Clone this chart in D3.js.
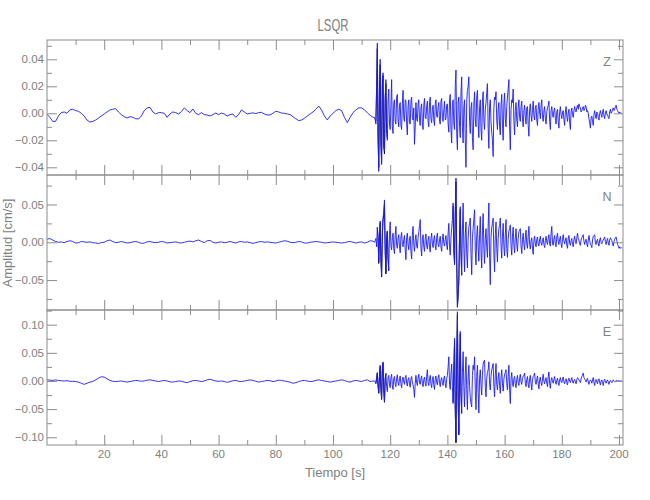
<!DOCTYPE html>
<html>
<head>
<meta charset="utf-8">
<script src="https://cdn.jsdelivr.net/npm/d3@7"></script>
<style>
  html, body { margin: 0; padding: 0; background: #fff; }
  svg { display: block; }
  text { font-family: "Liberation Sans Narrow", "Liberation Sans", "DejaVu Sans Condensed", sans-serif; fill: #808080; }
</style>
</head>
<body>
<svg id="chart" width="650" height="500"></svg>
<script>
// ---------------- DATA (amplitudes in units of 0.001 cm/s) ----------------
const title = "LSQR";
const xLabel = "Tiempo [s]";
const yLabel = "Amplitud [cm/s]";
const components = ["Z", "N", "E"];

// quiet part: one sample per second from t = 0 s to t = 114 s
const quietStart = 0, quietStep = 1;
// active part: one sample per quarter second from t = 114.5 s to t = 201 s
const activeStart = 114.5, activeStep = 0.25;

const zQuiet = [-0.7,-3,-6,-6,-2,0.5,1,0,2.5,3,2,1.5,0,-2,-5,-6.5,-6,-5,-3.5,-2,-0.5,1,2.5,3,3.5,1,-1,-2.5,-3.5,-2.5,
  -3,-4,-4.2,-2,2,4,4.4,1,-0.5,0.5,0.5,0,-3,-0.5,1,0.5,-0.5,1.2,4,2,0.5,3.2,0,-1,0.5,-1,-1.2,-2,-1,0.2,
  -1,0.2,-0.5,-2,-1,-0.5,-3,-1,2.5,1,-0.5,0,0.3,-0.2,0.5,0.7,-0.5,-1.2,-1.2,0,1.5,1,0.2,0,-0.5,-1,-2.5,-4,-5.4,-5,
  -3.7,-2,-0.5,1,3,5.4,2.5,-2,-4.9,-2,0,2,3,2,-3,-6.9,-3,0.5,2.5,4,4,2.5,0.5,-1.5,-3];
const zActive = [
  -3,-5,-8,20,52,-15,-43,18,40,-20,-38,24,30,-25,-28,12,25,-14,-20,10,
  18,-8,-12,6,25,-10,-15,8,10,-6,-8,12,14,-5,-10,6,8,-9,-12,7,
  17,-4,-6,10,9,-8,-16,5,10,-7,-8,9,12,-3,-5,4,-23,-10,8,-4,
  -6,7,10,-5,-9,4,7,-8,-12,6,11,-3,-4,5,9,-6,-10,8,12,-4,
  -7,3,6,-5,-9,7,10,-2,-3,5,8,-6,-8,9,11,-4,-6,3,9,-5,
  -4,6,7,-8,-14,10,14,-12,-22,6,10,-8,-12,20,32,-15,-27,8,12,-10,
  -18,15,27,-10,-22,5,10,-20,-40,8,17,20,27,-6,-15,4,8,-18,-27,6,
  16,-5,-10,12,17,-8,-18,4,10,-12,-20,9,16,-6,-12,3,8,15,22,-10,
  -26,5,10,-6,-14,-20,-32,4,12,10,16,-5,-12,3,8,-10,-16,6,14,-8,
  -20,7,15,-4,-10,5,12,18,25,-10,-27,3,10,8,18,-6,-16,2,8,-5,
  -10,4,10,-3,-6,5,9,-4,-10,2,6,-3,-8,4,5,-9,-17,3,7,-2,
  -6,3,9,-2,-5,4,6,-5,-9,3,8,1,-4,6,10,-3,-6,2,5,-4,
  -8,1,4,6,9,-6,-12,2,5,-1,-3,2,4,-4,-8,1,3,-6,-11,1,
  5,-1,-4,1,2,-5,-9,1,5,-2,-6,0,3,-7,-12,1,4,-1,-3,2,
  5,2,1,4,6,3,7,5,4,1,2,4,5,2,3,6,5,1,2,0,
  -4,-7,-11,-3,-2,-6,-9,-1,2,-2,-4,1,0,-3,-5,0,2,-1,-3,1,
  3,-2,-4,0,2,-1,-1,-3,-4,1,3,0,1,3,4,2,3,5,6,3,
  2,1,0,1,0,0,0];

const nQuiet = [4,5,3,1,0,0.5,-0.5,1,2,1,-1,-0.5,1,0.5,0,0.5,-0.5,-1,-1.5,-0.5,0,2,3,1,-0.5,0,1,0,-1,-0.5,
  0.5,1,0,-1.5,-1,0.5,1,0,-0.5,0,1,0.5,-1,-0.5,0,0.5,-0.5,-1,0,1,1.5,0.5,2,3,1,-0.5,2,2.5,0,-1,
  0,0.5,-0.5,0,1,0,-1,0.5,1,0,0.5,-0.5,-1.5,-0.5,0.5,1,0,0.5,0,-0.5,-1,0,1,2,1.5,0,-0.5,0,1,0.5,
  -1,-1,0,0.5,1,0.5,0,-1,-0.5,0,0.5,0,-0.5,-1,-0.5,0.5,1,0,-1,0,0.5,-1,0,2,1.5];
const nActive = [
  0,2,5,-6,20,8,-25,10,28,-20,-45,12,32,40,56,-10,-40,6,15,-20,
  -37,10,27,-5,-10,6,12,-8,-15,10,21,-4,-8,5,10,-6,-14,7,13,-3,
  -6,4,9,-10,-23,6,12,-3,-10,5,8,-12,-22,10,21,-4,-12,3,10,-5,
  -8,6,14,22,30,-8,-18,4,10,-6,-12,5,11,-4,-9,3,8,-7,-13,5,
  12,-2,-7,4,9,-5,-10,6,12,-3,-6,3,8,-6,-12,4,11,-2,-5,4,
  9,-4,-10,12,25,-6,-17,6,18,30,52,-10,-30,40,85,-20,-85,-70,-52,10,
  47,-10,-43,15,52,-8,-39,10,27,-15,-34,5,20,25,32,-15,-43,6,18,30,
  43,-10,-30,8,22,-6,-25,10,34,-12,-34,15,38,-8,-28,5,18,-6,-20,20,
  52,-20,-56,6,20,25,32,-15,-39,10,27,-8,-26,5,18,22,32,-5,-21,8,
  25,-6,-18,10,30,-8,-20,4,15,18,23,-5,-17,8,20,-4,-14,6,18,-3,
  -12,5,14,16,18,-5,-15,4,12,-3,-10,6,16,-2,-8,8,21,-3,-9,2,
  6,-8,-16,3,8,-2,-6,4,7,-2,-5,3,8,-1,-4,2,6,-3,-7,2,
  8,0,-3,5,10,-2,-5,12,21,-2,-4,5,9,-3,-6,7,12,1,-3,4,
  8,-2,-7,4,10,2,-2,3,6,-4,-8,5,9,-1,-4,2,5,-3,-6,4,
  8,1,-2,6,12,5,3,-2,-4,3,6,8,10,1,-3,2,4,-2,-6,3,
  9,2,-2,-4,-7,3,8,9,10,-1,-3,2,4,-2,-5,3,6,0,-2,1,
  3,5,7,1,-3,2,5,-1,-4,3,6,4,2,-2,-5,1,4,6,7,2,
  -3,-5,-8,-6,-8,-7,-8];

const eQuiet = [2,1.5,1,2,1,0.5,0,0.5,-0.5,-0.5,-1,-2,-4,-6,-4,-2,-1,2,5,7.5,7,4,1,-0.5,-1,-0.5,0,-1,-2,-1,
  0,1,0.5,-0.5,0,1.5,2,1,0,-1,0,1,0,-1.5,-2,-1,0,-0.5,-2,-3,-1,0.5,1,0,-1,0,2,3,1.5,0,
  -0.5,0,-1,-2.5,-1,0.5,1,-0.5,-1,0,1,2,1,-0.5,-2,-1,0,1,0.5,-1,0,1.5,1,0,-1,-2,-4,-3,-1,0.5,
  1,0,-1,-0.5,1,2,1,0,-1,-2,-1,0,1,2,1,-1,-2,0,1,0,-1,1,2,-1,0];
const eActive = [
  0,-2,-5,6,15,-8,-20,10,28,-12,-31,20,34,-15,-37,5,14,-10,-19,6,
  10,-5,-12,6,12,-8,-15,4,8,-6,-10,5,11,-3,-8,4,9,-5,-12,3,
  7,-2,-6,6,10,-4,-9,3,6,-5,-11,4,8,-2,-7,-15,-29,-5,10,-3,
  -8,5,12,-2,-6,4,9,-5,-10,3,7,-4,-9,8,20,-3,-8,4,10,-5,
  -12,3,8,-7,-15,4,9,-3,-7,5,11,-4,-10,2,6,-3,-8,4,9,-5,
  -12,4,10,25,43,-6,-15,12,30,-10,-40,20,76,-50,-108,40,123,-30,-93,20,
  88,-20,-57,15,52,-10,-46,12,43,-15,-51,6,28,-8,-30,-40,-46,10,28,20,
  43,-15,-51,8,28,-20,-57,5,20,-8,-25,10,30,35,37,-10,-28,4,15,20,
  34,-5,-16,8,20,25,31,-10,-28,12,31,-6,-16,5,15,-8,-22,6,20,-4,
  -18,3,12,15,20,-5,-16,8,28,-15,-40,5,15,-3,-10,4,8,-5,-12,3,
  10,-3,-8,5,12,-2,-6,4,9,10,14,-4,-10,3,8,-6,-12,4,10,-5,
  -16,2,8,10,14,-2,-6,3,9,-5,-14,2,7,-3,-8,4,12,-1,-5,2,
  6,-4,-10,8,16,-5,-13,2,6,-1,-4,3,8,-2,-6,1,5,-3,-8,2,
  6,-1,-3,3,7,-2,-5,1,4,-3,-7,2,5,0,-3,2,6,-1,-4,1,
  3,-2,-5,2,6,4,2,-1,-3,4,8,10,14,6,4,1,-2,2,5,-2,
  -6,-1,2,0,-4,2,6,-3,-8,1,3,-2,-5,2,4,-3,-7,0,2,-3,
  -8,0,3,-1,-4,0,2,-2,-6,-1,1,-1,-3,0,2,0,-2,0,1,1,
  0,0,1,0,0,0,0];

// black (observed) trace, visible only where it leaves the blue one: [start time, values every 0.25 s]
const blackStep = 0.25;
const zBlack = [[115, [-6,18,48,-18,-40,15,36,-22,-36,20,28,-24,-30,10,22,-12,-18]]];
const nBlack = [[115.5, [18,6,-28,8,26,-22,-46,10,30,36,50,-12,-42,4,14,-22,-38]],
                [142, [48,-8,-28,36,80,-22,-86,-72,-50,8,44,-12,-44]]];
const eBlack = [[115, [-4,5,14,-9,-22,8,26,-14,-33,18,32,-16,-38,4,12]],
                [142, [-38,18,72,-52,-110,36,118,-34,-96,18,84,-22,-58]]];

const quietSeries = [zQuiet, nQuiet, eQuiet];
const activeSeries = [zActive, nActive, eActive];
const blackSeries = [zBlack, nBlack, eBlack];

// axis domains (cm/s) and tick values
const yDomains = [[-0.0457, 0.0543], [-0.0896, 0.0890], [-0.1137, 0.1261]];
const yMajorTicks = [[-0.04, -0.02, 0, 0.02, 0.04], [-0.05, 0, 0.05], [-0.10, -0.05, 0, 0.05, 0.10]];
const yMinorTicks = [[-0.03, -0.01, 0.01, 0.03, 0.05], [-0.075, -0.025, 0.025, 0.075], [-0.075, -0.025, 0.025, 0.075, 0.125]];
const xDomain = [0, 201.4];
const xMajorTicks = [20, 40, 60, 80, 100, 120, 140, 160, 180, 200];
const xMinorTicks = [10, 30, 50, 70, 90, 110, 130, 150, 170, 190];

// ---------------- DRAWING ----------------
const svg = d3.select("#chart");
const left = 47, right = 623, panelTop = 40, panelH = 135;
const axisColor = "#8c8c8c";
const x = d3.scaleLinear().domain(xDomain).range([left, right]);

function buildPoints(q, a) {
  const pts = q.map((v, i) => ({ t: quietStart + i * quietStep, v: v / 1000 }));
  a.forEach((v, i) => pts.push({ t: activeStart + i * activeStep, v: v / 1000 }));
  return pts;
}

components.forEach((comp, p) => {
  const top = panelTop + p * panelH, bottom = top + panelH;
  const y = d3.scaleLinear().domain(yDomains[p]).range([bottom, top]);
  const g = svg.append("g");

  const clipId = "clip" + p;
  svg.append("clipPath").attr("id", clipId).append("rect")
    .attr("x", left).attr("y", top).attr("width", right - left).attr("height", panelH);

  const line = d3.line().x(d => x(d.t)).y(d => y(d.v));

  // black trace segments (underneath)
  blackSeries[p].forEach(([t0, vals]) => {
    const seg = vals.map((v, i) => ({ t: t0 + i * blackStep, v: v / 1000 }));
    g.append("path").datum(seg).attr("clip-path", `url(#${clipId})`)
      .attr("d", line).attr("fill", "none").attr("stroke", "#000").attr("stroke-width", 0.9);
  });

  // blue trace
  const pts = buildPoints(quietSeries[p], activeSeries[p]);
  g.append("path").datum(pts).attr("clip-path", `url(#${clipId})`)
    .attr("d", line).attr("fill", "none").attr("stroke", "#1a1aff").attr("stroke-width", 0.9);

  // frame
  g.append("rect").attr("x", left).attr("y", top).attr("width", right - left).attr("height", panelH)
    .attr("fill", "none").attr("stroke", axisColor).attr("stroke-width", 1);

  // left axis
  const yAxisL = d3.axisLeft(y).tickValues(yMajorTicks[p]).tickSize(-10).tickPadding(3).tickFormat(d3.format(".2f"));
  const gl = g.append("g").attr("transform", `translate(${left},0)`).call(yAxisL);
  gl.select(".domain").remove();
  gl.selectAll("line").attr("stroke", axisColor);
  gl.selectAll("text").attr("fill", "#7a7a7a").style("font-size", "11.5px");
  const glm = g.append("g").attr("transform", `translate(${left},0)`)
    .call(d3.axisLeft(y).tickValues(yMinorTicks[p]).tickSize(-5).tickFormat(""));
  glm.select(".domain").remove();
  glm.selectAll("line").attr("stroke", axisColor);

  // right axis
  const gr = g.append("g").attr("transform", `translate(${right},0)`)
    .call(d3.axisRight(y).tickValues(yMajorTicks[p]).tickSize(-9).tickFormat(""));
  gr.select(".domain").remove();
  gr.selectAll("line").attr("stroke", axisColor);
  const grm = g.append("g").attr("transform", `translate(${right},0)`)
    .call(d3.axisRight(y).tickValues(yMinorTicks[p]).tickSize(-5).tickFormat(""));
  grm.select(".domain").remove();
  grm.selectAll("line").attr("stroke", axisColor);

  // top and bottom x ticks
  [[top, d3.axisTop], [bottom, d3.axisBottom]].forEach(([yy, axisFn]) => {
    const gM = g.append("g").attr("transform", `translate(0,${yy})`)
      .call(axisFn(x).tickValues(xMajorTicks).tickSize(-10).tickFormat(""));
    gM.select(".domain").remove();
    gM.selectAll("line").attr("stroke", axisColor);
    const gm = g.append("g").attr("transform", `translate(0,${yy})`)
      .call(axisFn(x).tickValues(xMinorTicks).tickSize(-5).tickFormat(""));
    gm.select(".domain").remove();
    gm.selectAll("line").attr("stroke", axisColor);
  });

  // component label
  g.append("text").attr("x", 607).attr("y", top + 26).attr("text-anchor", "middle")
    .style("font-size", "12.5px").text(comp);

  // x tick labels under last panel
  if (p === components.length - 1) {
    g.append("g").selectAll("text").data(xMajorTicks).join("text")
      .attr("x", d => x(d)).attr("y", bottom + 13).attr("text-anchor", "middle")
      .attr("fill", "#7a7a7a").style("font-size", "11.5px").text(d => d);
  }
});

// title & axis labels
svg.append("text").attr("x", 333).attr("y", 31).attr("text-anchor", "middle")
  .style("font-size", "17px").attr("textLength", 31).attr("lengthAdjust", "spacingAndGlyphs").text(title);
svg.append("text").attr("x", 335).attr("y", 477).attr("text-anchor", "middle")
  .style("font-size", "13px").text(xLabel);
svg.append("text").attr("transform", "translate(12,243) rotate(-90)").attr("text-anchor", "middle")
  .style("font-size", "13px").text(yLabel);
</script>
</body>
</html>
